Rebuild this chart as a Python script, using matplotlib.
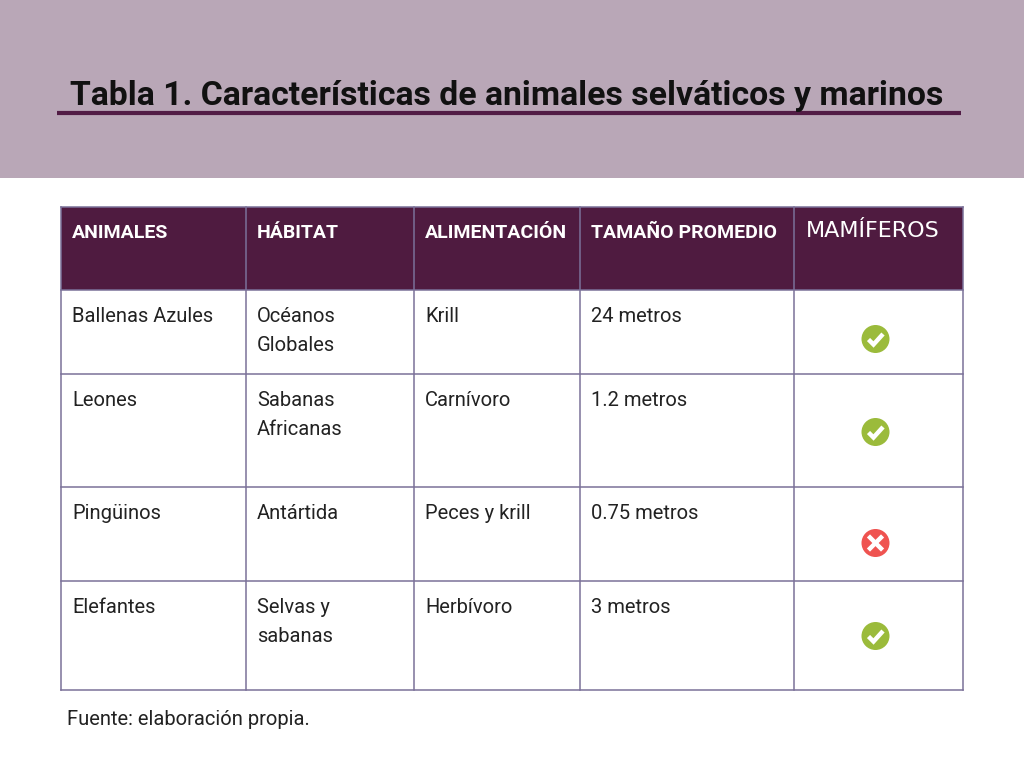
import matplotlib
matplotlib.use("Agg")
import matplotlib.pyplot as plt
from matplotlib.patches import Rectangle, Circle

titulo = "Tabla 1. Características de animales selváticos y marinos"
fuente = "Fuente: elaboración propia."

columnas = ["ANIMALES", "HÁBITAT", "ALIMENTACIÓN", "TAMAÑO PROMEDIO", "MAMÍFEROS"]
animales = ["Ballenas Azules", "Leones", "Pingüinos", "Elefantes"]
habitat = ["Océanos\nGlobales", "Sabanas\nAfricanas", "Antártida", "Selvas y\nsabanas"]
alimentacion = ["Krill", "Carnívoro", "Peces y krill", "Herbívoro"]
tamano = ["24 metros", "1.2 metros", "0.75 metros", "3 metros"]
mamiferos = [True, True, False, True]

# layout in pixels (figure is 1024 x 768)
col_x = [61, 246, 414, 580, 794, 963]
row_y = [207, 290, 374, 487, 581, 690]
icon_dy = [49, 58, 56, 55]   # icon centre below row top

BAND = "#b9a7b7"
HEAD = "#4f1b40"
GRID = "#7b7199"
VERDE = "#9bbb3b"
ROJO = "#ef5350"
FONT = "Roboto"

fig = plt.figure(figsize=(10.24, 7.68), dpi=100)
ax = fig.add_axes([0, 0, 1, 1])
ax.set_xlim(0, 1024)
ax.set_ylim(768, 0)
ax.axis("off")

# header band and title
ax.add_patch(Rectangle((0, 0), 1024, 178, color=BAND, lw=0))
ax.text(70, 105, titulo, fontsize=24.3, fontweight="bold", family=FONT,
        color="#111111", va="baseline", ha="left")
ax.plot([57, 961], [113, 113], color="#521c45", lw=3, solid_capstyle="butt")

# header row
ax.add_patch(Rectangle((col_x[0], row_y[0]), col_x[-1] - col_x[0], row_y[1] - row_y[0],
                       color=HEAD, lw=0))
for j, c in enumerate(columnas):
    if c == "MAMÍFEROS":
        ax.text(col_x[j] + 12, 237, c, fontsize=16, family="DejaVu Sans",
                color="white", va="baseline")
    else:
        ax.text(col_x[j] + 11, 238, c, fontsize=14, fontweight="bold", family=FONT,
                color="white", va="baseline")

# body
filas = list(zip(animales, habitat, alimentacion, tamano))
for i, fila in enumerate(filas):
    top = row_y[i + 1]
    for j, val in enumerate(fila):
        for k, linea in enumerate(val.split("\n")):
            ax.text(col_x[j] + 11, top + 32 + 29 * k, linea, fontsize=14.5,
                    family=FONT, color="#222222", va="baseline")
    # icon
    cx = (col_x[4] + col_x[5]) / 2 - 3
    cy = top + icon_dy[i]
    r = 14
    if mamiferos[i]:
        ax.add_patch(Circle((cx, cy), r, color=VERDE, lw=0, zorder=3))
        ax.plot([cx - 7, cx - 2, cx + 7.5], [cy + 0.5, cy + 5.5, cy - 5],
                color="white", lw=3.2, zorder=4, solid_capstyle="butt",
                solid_joinstyle="miter")
    else:
        ax.add_patch(Circle((cx, cy), r, color=ROJO, lw=0, zorder=3))
        d = 5.5
        ax.plot([cx - d, cx + d], [cy - d, cy + d], color="white", lw=3.2, zorder=4)
        ax.plot([cx - d, cx + d], [cy + d, cy - d], color="white", lw=3.2, zorder=4)

# grid lines
for x in col_x:
    ax.plot([x, x], [row_y[0], row_y[-1]], color=GRID, lw=1.1, zorder=2)
for y in row_y:
    ax.plot([col_x[0], col_x[-1]], [y, y], color=GRID, lw=1.1, zorder=2)

ax.text(67, 725, fuente, fontsize=14.5, family=FONT, color="#222222", va="baseline")

fig.savefig("out.png", dpi=100)
